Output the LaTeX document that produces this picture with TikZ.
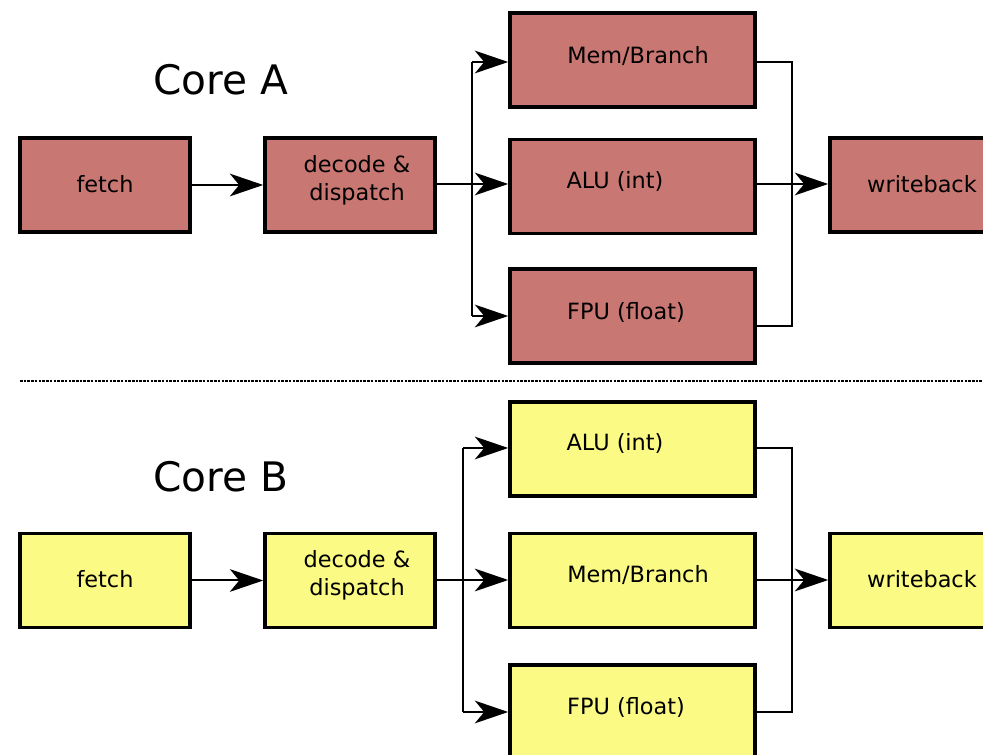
\documentclass[tikz,border=0pt]{standalone}
\usepackage{fontspec}
\setmainfont{DejaVu Sans}
\usetikzlibrary{arrows.meta}
\definecolor{coreA}{HTML}{C87772}
\definecolor{coreB}{HTML}{FAFA84}
\begin{document}
\begin{tikzpicture}[x=0.75pt,y=-0.75pt,
  box/.style={draw=black,line width=2.7pt,minimum height=70.5pt,inner sep=0pt},
  small/.style={box,minimum width=127.5pt},
  wide/.style={box,minimum width=183.75pt},
  txt/.style={font=\fontsize{16.8pt}{21pt}\selectfont,align=center,inner sep=0pt},
  title/.style={font=\fontsize{30.5pt}{36pt}\selectfont,inner sep=0pt},
  conn/.style={line width=1.5pt},
  arr/.style={conn,-{Stealth[length=25pt,width=17pt,inset=7pt]}},
  sep/.style={line width=1.9pt,dash pattern=on 1.9pt off 0.9pt}]
\useasboundingbox (0,0) rectangle (983,755);
\clip (0,0) rectangle (983,755);

% ---------------- Core A ----------------
\node[title] (ta) at (221,80) {Core A};
\node[small,fill=coreA] (fa) at (105,185) {};
\node[small,fill=coreA] (da) at (350,185) {};
\node[wide,fill=coreA] (ma) at (632.5,60) {};
\node[wide,fill=coreA] (aa) at (632.5,186.5) {};
\node[wide,fill=coreA] (pa) at (632.5,316) {};
\node[small,fill=coreA] (wa) at (915,185) {};
\node[txt] (fat) at (105,184) {fetch};
\node[txt] (dat) at (357,180) {decode \&\\dispatch};
\node[txt] (mat) at (638,56) {Mem/Branch};
\node[txt] (aat) at (615,181) {ALU (int)};
\node[txt] (pat) at (626,312) {FPU (float)};
\node[txt] (wat) at (922,184) {writeback};

\coordinate (sa1) at (472,62);
\coordinate (sa2) at (472,184);
\coordinate (sa3) at (472,316);
\coordinate (ja1) at (792,62);
\coordinate (ja2) at (792,184);
\coordinate (ja3) at (792,326);

\draw[arr] (fa.east) -- (da.west);
\draw[arr] (da.east |- sa2) -- (aa.west |- sa2);
\draw[conn] (sa1) -- (sa3);
\draw[arr] (sa1) -- (ma.west |- sa1);
\draw[arr] (sa3) -- (pa.west |- sa3);
\draw[conn] (ma.east |- ja1) -- (ja1) -- (ja3) -- (pa.east |- ja3);
\draw[arr] (aa.east |- ja2) -- (wa.west |- ja2);

% separator
\draw[sep] (20,381) -- (983,381);

% ---------------- Core B ----------------
\node[title] (tb) at (221,477) {Core B};
\node[small,fill=coreB] (fb) at (105,580.5) {};
\node[small,fill=coreB] (db) at (350,580.5) {};
\node[wide,fill=coreB] (ab) at (632.5,449) {};
\node[wide,fill=coreB] (mb) at (632.5,580.5) {};
\node[wide,fill=coreB] (pb) at (632.5,712) {};
\node[small,fill=coreB] (wb) at (915,580.5) {};
\node[txt] (fbt) at (105,579) {fetch};
\node[txt] (dbt) at (357,575) {decode \&\\dispatch};
\node[txt] (abt) at (615,443) {ALU (int)};
\node[txt] (mbt) at (638,575) {Mem/Branch};
\node[txt] (pbt) at (626,707) {FPU (float)};
\node[txt] (wbt) at (922,579) {writeback};

\coordinate (sb1) at (463,448);
\coordinate (sb2) at (463,580);
\coordinate (sb3) at (463,712);
\coordinate (jb1) at (792,448);
\coordinate (jb2) at (792,580);
\coordinate (jb3) at (792,712);

\draw[arr] (fb.east) -- (db.west);
\draw[arr] (db.east |- sb2) -- (mb.west |- sb2);
\draw[conn] (sb1) -- (sb3);
\draw[arr] (sb1) -- (ab.west |- sb1);
\draw[arr] (sb3) -- (pb.west |- sb3);
\draw[conn] (ab.east |- jb1) -- (jb1) -- (jb3) -- (pb.east |- jb3);
\draw[arr] (mb.east |- jb2) -- (wb.west |- jb2);
\end{tikzpicture}
\end{document}
